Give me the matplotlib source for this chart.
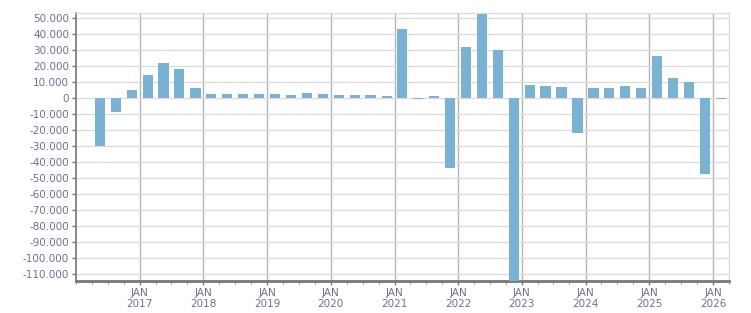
import numpy as np
import pandas as pd
import matplotlib
matplotlib.use('Agg')
import matplotlib.pyplot as plt
import matplotlib.dates as mdates
from matplotlib.ticker import FuncFormatter, MultipleLocator

# quarterly values, Q2 2016 .. Q1 2026
quarters = pd.period_range('2016Q2', '2026Q1', freq='Q')
values = [-30000, -8500, 5200,
          14600, 22100, 18100, 6500,
          2700, 2700, 2700, 2700,
          2700, 2100, 3300, 2700,
          2100, 2100, 2100, 1500,
          43300, -400, 1500, -43400,
          32100, 52700, 30200, -118000,
          8300, 7700, 7100, -21700,
          6500, 6500, 7700, 6500,
          26500, 12700, 10200, -47300,
          -400]
years = list(range(2017, 2027))

label_color = '#6f6f8c'
bar_color = '#7ab2d4'

starts = mdates.date2num(quarters.start_time.to_pydatetime())
ends = mdates.date2num(quarters.end_time.to_pydatetime())
mids = (starts + ends) / 2

fig = plt.figure(figsize=(7.51, 3.13), dpi=100)
ax = fig.add_axes([0.1012, 0.1032, 0.8691, 0.8553])

ax.bar(mids, values, width=58, color=bar_color, zorder=3)

ax.set_xlim(mdates.date2num(pd.Timestamp('2016-01-01')),
            mdates.date2num(pd.Timestamp('2026-04-01')))
ax.set_ylim(-114000, 53300)

ax.yaxis.set_major_locator(MultipleLocator(10000))
ax.yaxis.set_major_formatter(FuncFormatter(lambda v, p: f'{int(v):,}'.replace(',', '.')))

year_pos = [mdates.date2num(pd.Timestamp(f'{y}-01-01')) for y in years]
ax.set_xticks(year_pos)
ax.set_xticklabels([f'JAN\n{y}' for y in years])
ax.xaxis.set_minor_locator(mdates.MonthLocator(bymonth=[1, 4, 7, 10]))

ax.grid(axis='y', color='#dcdcdc', linewidth=1, zorder=0)
ax.grid(axis='x', which='major', color='#b4b4b4', linewidth=1, zorder=1)

ax.tick_params(axis='both', which='major', labelsize=7.5, labelcolor=label_color,
               color='#777777', length=3, width=1, pad=2)
ax.tick_params(axis='x', which='minor', length=2, color='#777777')

for s in ['top', 'right']:
    ax.spines[s].set_color('#dcdcdc')
    ax.spines[s].set_linewidth(1)
ax.spines['left'].set_color('#777777')
ax.spines['left'].set_linewidth(1.2)
ax.spines['bottom'].set_color('#777777')
ax.spines['bottom'].set_linewidth(2)

fig.savefig('out.png', dpi=100)
